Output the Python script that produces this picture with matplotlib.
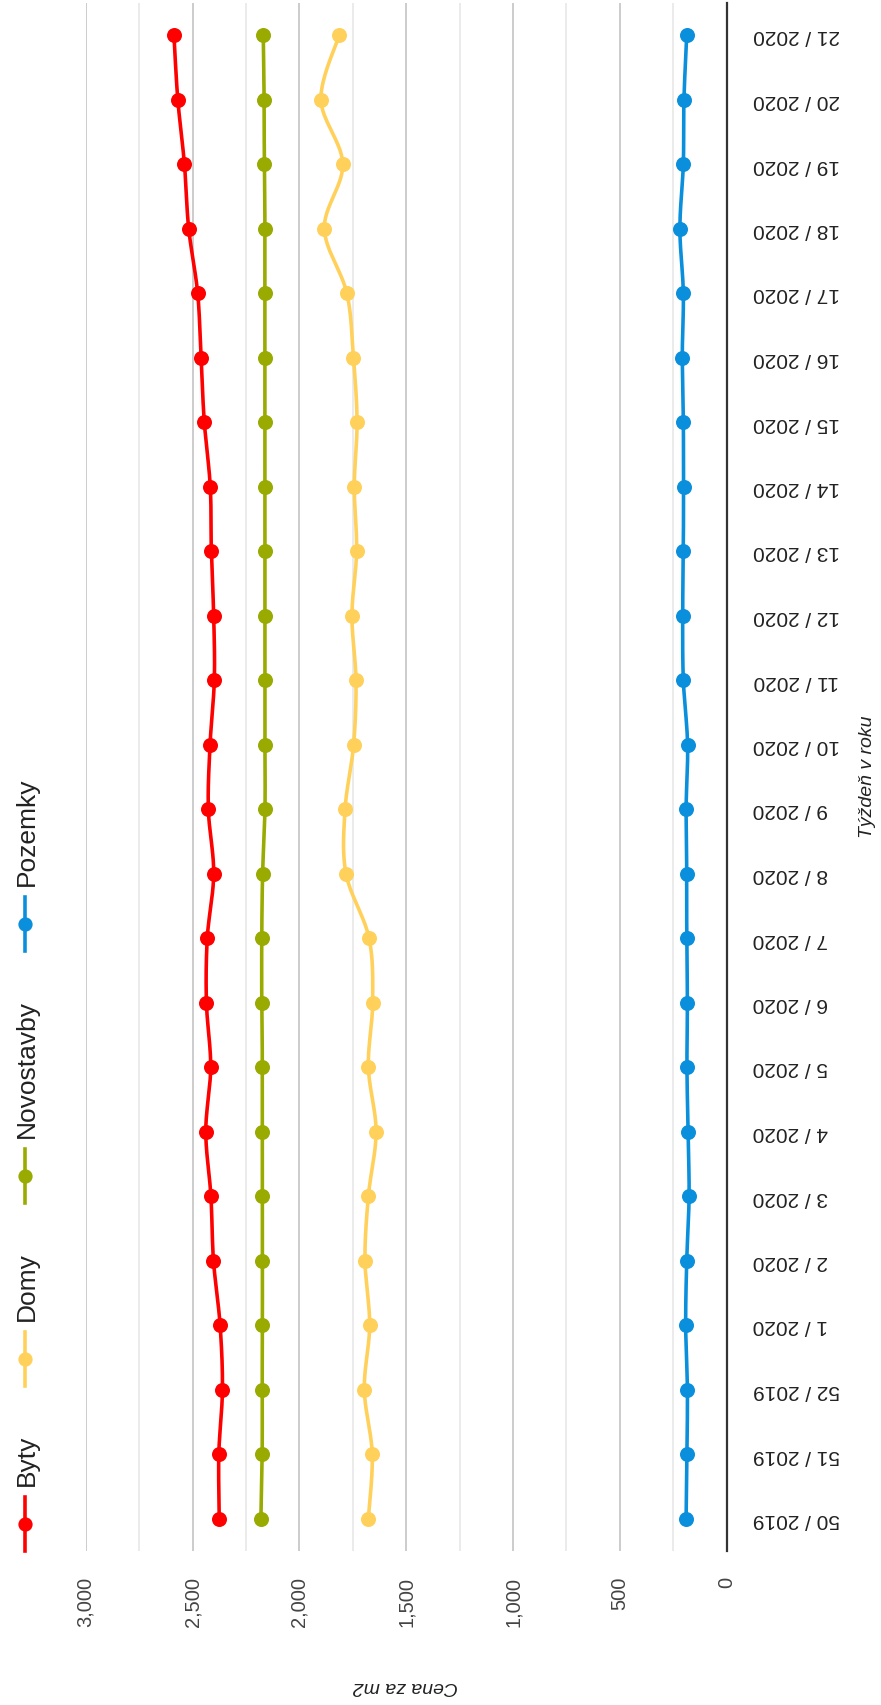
import numpy as np
import matplotlib
matplotlib.use("Agg")
import matplotlib.pyplot as plt
from matplotlib.ticker import MultipleLocator, FixedLocator, FuncFormatter

plt.rcParams["font.family"] = ["Liberation Sans", "DejaVu Sans"]

# Weekly average price per m2, week 50/2019 .. 21/2020
weeks = ["50 / 2019", "51 / 2019", "52 / 2019", "1 / 2020", "2 / 2020", "3 / 2020",
         "4 / 2020", "5 / 2020", "6 / 2020", "7 / 2020", "8 / 2020", "9 / 2020",
         "10 / 2020", "11 / 2020", "12 / 2020", "13 / 2020", "14 / 2020", "15 / 2020",
         "16 / 2020", "17 / 2020", "18 / 2020", "19 / 2020", "20 / 2020", "21 / 2020"]

byty = [2375, 2377, 2360, 2371, 2402, 2414, 2438, 2415, 2435, 2431, 2401, 2426,
        2418, 2398, 2401, 2412, 2417, 2445, 2460, 2476, 2518, 2538, 2569, 2587]
domy = [1677, 1659, 1696, 1671, 1693, 1677, 1641, 1677, 1657, 1674, 1782, 1786,
        1746, 1735, 1754, 1732, 1743, 1730, 1747, 1778, 1883, 1797, 1899, 1813]
novostavby = [2180, 2174, 2174, 2173, 2173, 2173, 2173, 2173, 2176, 2176, 2172, 2161,
              2161, 2161, 2161, 2161, 2161, 2161, 2161, 2161, 2161, 2164, 2165, 2169]
pozemky = [190, 186, 184, 192, 187, 176, 181, 186, 184, 187, 187, 190,
           183, 203, 206, 203, 202, 203, 208, 203, 219, 203, 200, 187]

series_names = ["Byty", "Domy", "Novostavby", "Pozemky"]
series_values = [byty, domy, novostavby, pozemky]
series_colors = ["#ff0000", "#ffd05a", "#99aa00", "#0a8fdc"]

value_ticks = [0, 500, 1000, 1500, 2000, 2500, 3000]

W, H, DPI = 881, 1706, 100
LW = 3.6 * 72 / DPI        # line width in px -> pt
MS = 15 * 72 / DPI         # marker diameter in px -> pt


def catmull_rom(xs, ys, steps=20):
    """Smooth curve through every point (uniform Catmull-Rom spline)."""
    p = np.column_stack([xs, ys]).astype(float)
    p = np.vstack([p[0], p, p[-1]])
    out = []
    t = np.linspace(0, 1, steps, endpoint=False)[:, None]
    for i in range(1, len(p) - 2):
        p0, p1, p2, p3 = p[i - 1], p[i], p[i + 1], p[i + 2]
        seg = 0.5 * ((2 * p1) + (-p0 + p2) * t + (2 * p0 - 5 * p1 + 4 * p2 - p3) * t ** 2
                     + (-p0 + 3 * p1 - 3 * p2 + p3) * t ** 3)
        out.append(seg)
    out.append(p[-2][None, :])
    out = np.vstack(out)
    return out[:, 0], out[:, 1]


fig = plt.figure(figsize=(W / DPI, H / DPI), dpi=DPI)
fig.patch.set_facecolor("white")

left, right = 85.7 / W, 726.7 / W
top, bottom = 1 - 3.75 / H, 1 - 1551.75 / H
ax = fig.add_axes([left, bottom, right - left, top - bottom])

pos = np.arange(len(weeks))
for name, vals, col in zip(series_names, series_values, series_colors):
    sx, sy = catmull_rom(vals, pos)
    ax.plot(sx, sy, color=col, lw=LW, solid_capstyle="round", zorder=3)
    ax.plot(vals, pos, "o", color=col, ms=MS, mec="none", zorder=4)

ax.set_xlim(3000, 0)
ax.set_ylim(-0.5, len(weeks) - 0.5)

ax.xaxis.set_major_locator(FixedLocator(value_ticks))
ax.xaxis.set_minor_locator(MultipleLocator(250))
ax.xaxis.set_major_formatter(FuncFormatter(lambda v, _: f"{int(v):,}"))
ax.grid(which="major", axis="x", color="#cccccc", lw=1.4, zorder=0)
ax.grid(which="minor", axis="x", color="#ebebeb", lw=1.4, zorder=0)
ax.set_axisbelow(True)
ax.axvline(0, color="#333333", lw=1.6, zorder=2, clip_on=False)

for s in ax.spines.values():
    s.set_visible(False)

ax.tick_params(axis="x", which="both", length=0, pad=18, labelsize=14.5,
               labelcolor="#444444", labelrotation=90)
ax.yaxis.tick_right()
ax.set_yticks(pos)
ax.set_yticklabels(weeks)
ax.tick_params(axis="y", length=0, pad=19, labelsize=15, labelcolor="#222222")
for lab in ax.get_yticklabels():
    lab.set_rotation(180)
    lab.set_verticalalignment("center")

fig.text(405.5 / W, 1 - 1687 / H, "Cena za m2", rotation=180, ha="center", va="center",
         fontsize=14, style="italic", color="#222222")
fig.text(868 / W, 1 - 777 / H, "Týždeň v roku", rotation=90, ha="center", va="center",
         fontsize=14, style="italic", color="#222222")

# Legend, stacked upward from the bottom-left corner
lax = fig.add_axes([0, 0, 1, 1], zorder=5)
lax.set_xlim(0, W)
lax.set_ylim(H, 0)
lax.axis("off")
renderer = fig.canvas.get_renderer()
y = 1552
lx = 25
for name, col in zip(series_names, series_colors):
    lax.plot([lx, lx], [y, y - 54], color=col, lw=LW)
    lax.plot([lx], [y - 27], "o", color=col, ms=MS * 0.95, mec="none")
    t = lax.text(lx + 2, y - 66, name, rotation=90, ha="center", va="bottom",
                 fontsize=19, color="#222222")
    ext = t.get_window_extent(renderer)
    y = y - 66 - ext.height - 48

fig.savefig("out.png", dpi=DPI, facecolor="white")
